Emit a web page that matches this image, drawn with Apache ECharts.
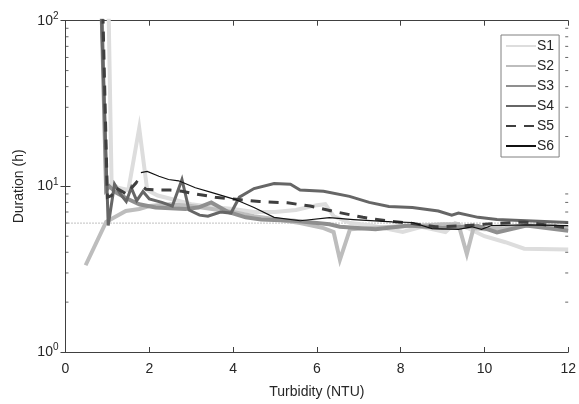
<!DOCTYPE html>
<html><head><meta charset="utf-8">
<script src="https://cdn.jsdelivr.net/npm/echarts@6/dist/echarts.min.js"></script>
<style>html,body{margin:0;padding:0;background:#fff}#c{width:579px;height:404px}</style>
</head><body><div id="c"></div>
<script>
const xTicks = [0, 2, 4, 6, 8, 10, 12];
const yMinorTicks = [2,3,4,5,6,7,8,9,20,30,40,50,60,70,80,90];
const threshold = 6;
const S1 = [[1.0,300],[1.1,10.5],[1.25,9.8],[1.5,9.5],[1.76,22.5],[1.95,9.5],[2.2,8.8],[2.6,8.3],[3.0,7.8],[3.5,7.5],[4.0,7.3],[4.5,7.0],[5.0,7.0],[5.5,7.2],[6.0,7.7],[6.2,7.8],[6.4,6.6],[6.8,6.0],[7.3,5.8],[8.05,5.3],[8.5,5.7],[9.07,5.3],[9.3,6.0],[9.6,5.6],[10.0,5.0],[10.5,4.6],[10.95,4.2],[12,4.15]];
const S2 = [[0.48,3.34],[0.97,6.1],[1.17,6.5],[1.44,7.1],[1.76,7.3],[2.0,7.6],[2.5,7.8],[3.0,7.6],[3.5,7.3],[4.0,7.0],[4.5,6.6],[5.06,6.3],[5.6,6.0],[6.16,5.6],[6.4,5.3],[6.55,3.6],[6.79,5.5],[7.3,5.6],[7.8,5.7],[8.5,5.8],[9.0,5.9],[9.38,5.9],[9.58,3.9],[9.74,5.6],[10.0,5.5],[10.5,5.6],[11,5.8],[11.5,5.8],[12,5.6]];
const S3 = [[0.82,300],[0.97,9.5],[1.05,10.0],[1.2,9.2],[1.44,8.5],[1.76,7.8],[2.15,7.45],[2.86,7.3],[3.17,7.45],[3.48,8.0],[3.88,7.0],[4.3,6.5],[4.67,6.3],[5.45,6.2],[6.3,5.9],[6.55,5.7],[7.4,5.5],[8.2,5.8],[9.0,5.6],[9.85,5.76],[10.3,5.27],[11,5.8],[12,5.4]];
const S4 = [[0.8,300],[1.02,5.8],[1.17,10.3],[1.32,8.9],[1.45,8.1],[1.57,9.8],[1.7,8.2],[1.85,9.3],[2.0,8.4],[2.3,8.0],[2.55,7.6],[2.78,11.0],[2.95,7.2],[3.2,6.7],[3.4,6.6],[3.7,7.0],[3.95,6.9],[4.15,8.6],[4.5,9.7],[4.98,10.4],[5.37,10.3],[5.6,9.5],[6.16,9.35],[6.78,8.7],[7.25,8.0],[7.72,7.55],[8.28,7.45],[8.9,7.1],[9.22,6.7],[9.38,6.9],[9.85,6.5],[10.3,6.3],[11,6.2],[12,6.05]];
const S5 = [[0.85,300],[1.0,8.6],[1.1,8.8],[1.2,9.8],[1.45,9.0],[1.7,10.6],[1.92,9.6],[2.2,9.5],[2.5,9.5],[2.78,9.35],[3.1,9.0],[3.57,8.6],[4.07,8.35],[4.63,8.1],[5.3,7.95],[5.84,7.6],[6.47,7.0],[7.1,6.5],[7.65,6.2],[8.2,6.0],[8.83,5.7],[9.38,5.76],[10,5.9],[10.95,6.1],[12,5.6]];
const S6 = [[1.8,12.1],[1.95,12.3],[2.23,11.5],[2.46,11.0],[2.7,10.8],[3.1,9.8],[3.48,9.2],[4.04,8.35],[4.5,7.45],[4.98,6.5],[5.6,6.2],[6.3,6.47],[6.87,6.3],[7.8,6.1],[8.28,6.05],[8.75,5.56],[9.38,5.5],[9.7,5.7],[9.93,5.5],[10.17,5.8],[11,5.85],[12,5.8]];

const FONT = 'Liberation Sans';
const TXT = '#262626';
const AX = '#404040';
const chart = echarts.init(document.getElementById('c'));
function line(name, data, color, width, type) {
  return {name, type:'line', data, symbol:'none', xAxisIndex:0, yAxisIndex:0,
    lineStyle:{color, width, type: type || 'solid', cap:'butt', join:'miter'}, itemStyle:{color}};
}
chart.setOption({
  animation:false,
  textStyle:{fontFamily:FONT},
  grid:{left:65.5, top:20.7, right:5, bottom:51, containLabel:false},
  legend:{
    data:['S1','S2','S3','S4','S5','S6'],
    orient:'vertical', left:501, top:35,
    itemWidth:30, itemHeight:14, itemGap:6, padding:[4,5,4,4],
    itemStyle:{opacity:0},
    borderColor:'#808080', borderWidth:1, backgroundColor:'#fff',
    textStyle:{fontFamily:FONT, fontSize:14, color:TXT, padding:[0,0,0,-4]}
  },
  xAxis:[{
    type:'value', min:0, max:12, interval:2,
    name:'Turbidity (NTU)', nameLocation:'middle', nameGap:33,
    nameTextStyle:{fontFamily:FONT, fontSize:14, color:TXT},
    axisLine:{lineStyle:{color:AX, width:1}},
    axisTick:{inside:true, length:5, lineStyle:{color:AX}},
    axisLabel:{fontFamily:FONT, fontSize:14, color:TXT, margin:10},
    splitLine:{show:false}
  },{
    type:'value', min:0, max:12, interval:2, position:'top',
    axisLine:{lineStyle:{color:AX, width:1}},
    axisTick:{inside:true, length:5, lineStyle:{color:AX}},
    axisLabel:{show:false}, splitLine:{show:false}
  }],
  yAxis:[{
    type:'log', min:1, max:100, logBase:10,
    name:'Duration (h)', nameLocation:'middle', nameGap:37,
    nameTextStyle:{fontFamily:FONT, fontSize:14, color:TXT},
    axisLine:{show:true, lineStyle:{color:AX, width:1}},
    axisTick:{inside:true, length:5, lineStyle:{color:AX}},
    axisLabel:{margin:7, formatter:function(v){
      const e = Math.round(Math.log10(v));
      return '{b|10}{s|' + e + '}';
    }, rich:{b:{fontFamily:FONT, fontSize:14, color:TXT}, s:{fontFamily:FONT, fontSize:10, color:TXT, padding:[0,0,9,0]}}},
    splitLine:{show:false}
  },{
    type:'log', min:1, max:100, logBase:10, position:'right',
    axisLine:{show:true, lineStyle:{color:AX, width:1}},
    axisTick:{inside:true, length:5, lineStyle:{color:AX}},
    axisLabel:{show:false}, splitLine:{show:false}
  }],
  series:[
    {name:'thr', type:'line', data:[[xTicks[0],threshold],[xTicks[xTicks.length-1],threshold]], symbol:'none',
      lineStyle:{color:'#808080', width:1, type:[1,2]}, silent:true, z:1},
    line('S1', S1, '#dddddd', 4),
    line('S2', S2, '#bdbdbd', 4),
    line('S3', S3, '#8f8f8f', 4),
    line('S4', S4, '#666666', 3),
    line('S5', S5, '#3f3f3f', 3, [10,8]),
    line('S6', S6, '#111111', 1.2),
    {name:'minL', type:'scatter', data:yMinorTicks.map(v=>[xTicks[0],v]), symbol:'rect', symbolSize:[3,1], symbolOffset:[1.5,0],
      itemStyle:{color:AX}, silent:true, clip:false, z:10},
    {name:'minR', type:'scatter', data:yMinorTicks.map(v=>[xTicks[xTicks.length-1],v]), symbol:'rect', symbolSize:[3,1], symbolOffset:[-1.5,0],
      itemStyle:{color:AX}, silent:true, clip:false, z:10}
  ]
});
</script></body></html>
